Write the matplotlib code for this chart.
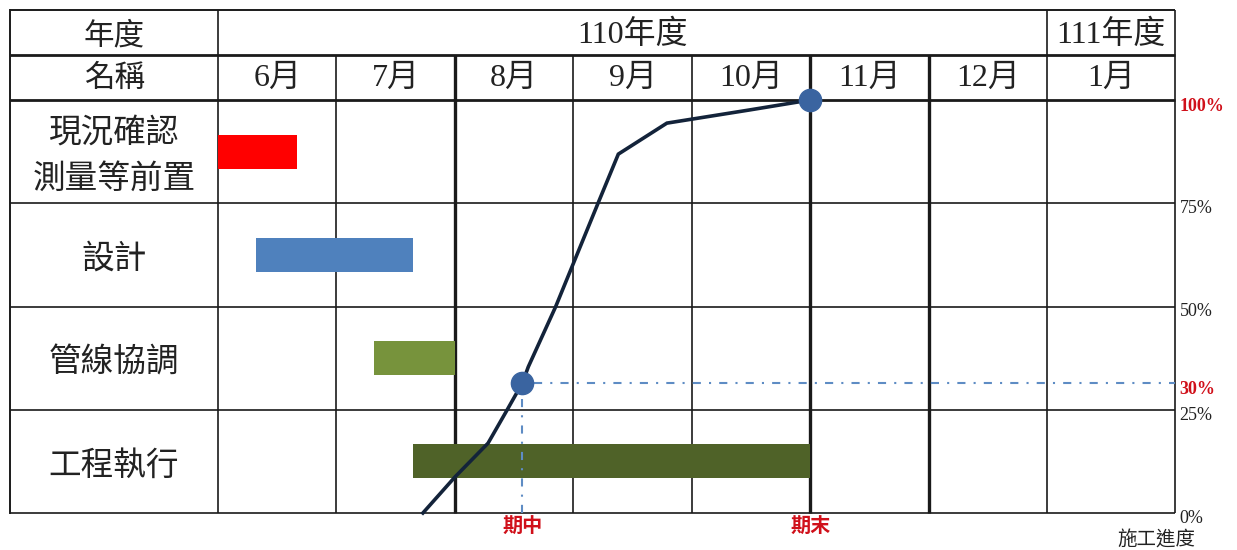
import matplotlib
matplotlib.use("Agg")
import matplotlib.pyplot as plt

# ---------------- data ----------------
months = ['6月', '7月', '8月', '9月', '10月', '11月', '12月', '1月']
month_edges = [0, 1, 2, 3, 4, 5, 6, 7, 8.08]
thick_edges = [2, 5, 6]
year_labels = ['110年度', '111年度']
year_spans = [(0, 7), (7, 8.08)]

tasks = ['現況確認\n測量等前置', '設計', '管線協調', '工程執行']
task_start = [0.0, 0.32, 1.32, 1.65]
task_end = [0.67, 1.65, 2.0, 5.0]
task_colors = ['#FF0000', '#4F81BD', '#77933C', '#4F6228']

progress_x = [1.73, 2.0, 2.28, 2.44, 2.57, 2.62, 2.85, 3.21, 3.38, 3.79, 4.49, 5.0]
progress_y = [0, 8.7, 16.9, 24.9, 31.5, 35.4, 49.9, 75.1, 86.9, 94.4, 97.6, 100]

milestone_x = [2.57, 5.0]
milestone_y = [31.5, 100]
milestone_labels = ['期中', '期末']

pct_ticks = [0, 25, 50, 75]
pct_labels = ['0%', '25%', '50%', '75%']
pct_red_ticks = [100, 31.5]
pct_red_labels = ['100%', '30%']

# ---------------- layout ----------------
W, H = 1237, 550
fig = plt.figure(figsize=(W / 100, H / 100), dpi=100)
fig.patch.set_facecolor('white')
ax = fig.add_axes([218 / W, 1 - 513 / H, (1175 - 218) / W, (513 - 100) / H])
ax.set_xlim(0, month_edges[-1])
ax.set_ylim(0, 100)
ax.axis('off')

CJK = ['Noto Sans CJK TC', 'DejaVu Sans']
SERIF_CJK = ['Liberation Serif', 'Noto Sans CJK TC', 'DejaVu Sans']
txt_col = '#222222'
line_col = '#1a1a1a'

name_left = -1.755
hdr1 = 110.9
hdr2 = 121.8
row_h = 25

# horizontal grid lines
for y in [0, 25, 50, 75]:
    ax.plot([name_left, month_edges[-1]], [y, y], color=line_col, lw=1.2,
            clip_on=False, solid_capstyle='butt')
for y in [100, hdr1]:
    ax.plot([name_left, month_edges[-1]], [y, y], color=line_col, lw=2.0,
            clip_on=False, solid_capstyle='butt')
ax.plot([name_left, month_edges[-1]], [hdr2, hdr2], color=line_col, lw=1.4,
        clip_on=False, solid_capstyle='butt')

# vertical grid lines
ax.plot([name_left, name_left], [0, hdr2], color=line_col, lw=1.4, clip_on=False)
for e in month_edges:
    full = e in (0, 7, month_edges[-1])
    top = hdr2 if full else hdr1
    lw = 2.4 if e in thick_edges else 1.2
    ax.plot([e, e], [0, top], color=line_col, lw=lw, clip_on=False,
            solid_capstyle='butt')

# header texts
ax.text((name_left + 0) / 2, (hdr1 + hdr2) / 2 - 0.9, '年度', ha='center', va='center',
        fontsize=22, family=CJK, color=txt_col, clip_on=False)
ax.text((name_left + 0) / 2, (100 + hdr1) / 2 - 0.2, '名稱', ha='center', va='center',
        fontsize=22, family=CJK, color=txt_col, clip_on=False)
for lab, (a, b) in zip(year_labels, year_spans):
    ax.text((a + b) / 2, (hdr1 + hdr2) / 2 - 0.6, lab, ha='center', va='center',
            fontsize=23, family=SERIF_CJK, color=txt_col, clip_on=False)
for i, m in enumerate(months):
    ax.text((month_edges[i] + month_edges[i + 1]) / 2, (100 + hdr1) / 2 - 0.3, m,
            ha='center', va='center', fontsize=23, family=SERIF_CJK,
            color=txt_col, clip_on=False)

# task names and bars
for i, (t, s, e, c) in enumerate(zip(tasks, task_start, task_end, task_colors)):
    yc = 100 - row_h * (i + 0.5)
    ax.text(name_left / 2, yc - 1.0, t, ha='center', va='center', fontsize=23.5,
            family=CJK, color=txt_col, linespacing=1.55, clip_on=False)
    ax.barh(yc, e - s, left=s, height=8.2, color=c, zorder=2)

# progress curve
ax.plot(progress_x, progress_y, color='#13233A', lw=2.6, zorder=4,
        solid_joinstyle='miter', clip_on=False)
ax.plot(milestone_x, milestone_y, 'o', color='#3A64A0', ms=16, zorder=5,
        clip_on=False)

# mid-term guide lines
dash = (0, (3.9, 3.9, 1.0, 3.9))
ax.plot([milestone_x[0] + 0.1, month_edges[-1]], [milestone_y[0]] * 2,
        color='#5E8CC4', lw=1.5, ls=dash, zorder=3, clip_on=False)
ax.plot([milestone_x[0]] * 2, [milestone_y[0] - 4, 0],
        color='#5E8CC4', lw=1.5, ls=dash, zorder=3, clip_on=False)

# milestone labels
for x, lab in zip(milestone_x, milestone_labels):
    ax.text(x, -0.8, lab, ha='center', va='top', fontsize=14.5, fontweight='bold',
            family=CJK, color='#D0101A', clip_on=False)

# right percentage labels
xr = month_edges[-1] + 0.04
for v, lab in zip(pct_ticks, pct_labels):
    ax.text(xr, v - 1.3, lab, ha='left', va='center', fontsize=13,
            family=['Liberation Serif'], color=txt_col, clip_on=False)
for v, lab in zip(pct_red_ticks, pct_red_labels):
    ax.text(xr, v - 1.5, lab, ha='left', va='center', fontsize=13,
            fontweight='bold', family=['Liberation Serif'], color='#D0101A',
            clip_on=False)
ax.text(7.92, -4.0, '施工進度', ha='center', va='top', fontsize=14,
        family=CJK, color=txt_col, clip_on=False)

fig.savefig('out.png', dpi=100, facecolor='white')
